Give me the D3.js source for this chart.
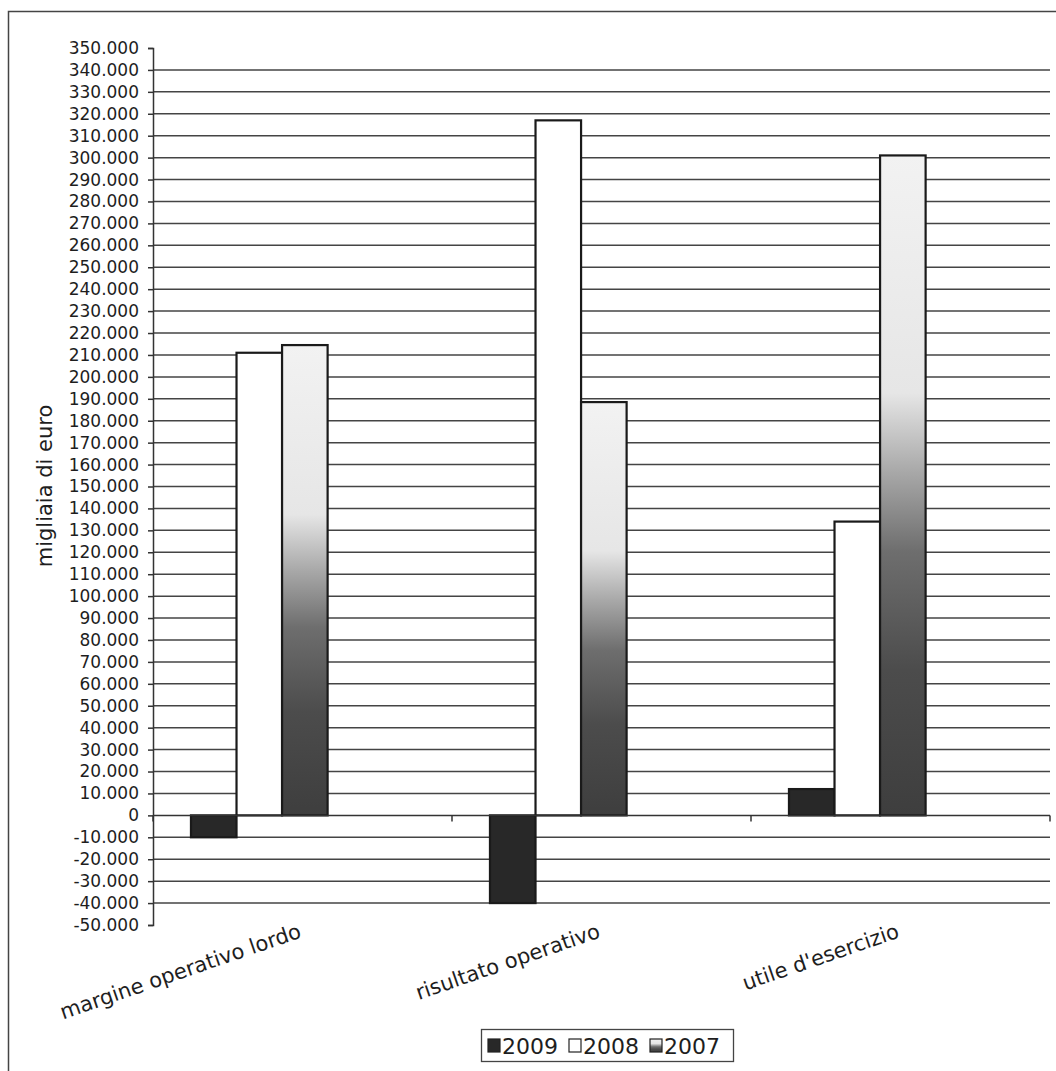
<!DOCTYPE html>
<html>
<head>
<meta charset="utf-8">
<script src="https://cdn.jsdelivr.net/npm/d3@7"></script>
<style>
  html, body { margin: 0; padding: 0; background: #fff; }
  svg { display: block; }
  text { font-family: "DejaVu Sans", Verdana, sans-serif; fill: #1e1e1e; }
</style>
</head>
<body>
<svg id="chart" width="1056" height="1071"></svg>
<script>
// ---- data ----
const categories = ["margine operativo lordo", "risultato operativo", "utile d'esercizio"];
const series = ["2009", "2008", "2007"];
const values2009 = [-10000, -40000, 12000];
const values2008 = [211000, 317000, 134000];
const values2007 = [214500, 188500, 301000];
const yTicks = d3.range(-50000, 350001, 10000);

const seriesValues = { "2009": values2009, "2008": values2008, "2007": values2007 };

// ---- layout ----
const W = 1056, H = 1071;
const plot = { left: 153, right: 1050, top: 48, bottom: 925 };

const svg = d3.select("#chart");
svg.append("rect").attr("width", W).attr("height", H).attr("fill", "#fff");

// outer frame (right and bottom edges run off the page)
svg.append("rect")
  .attr("x", 8.5).attr("y", 11.5).attr("width", 1070).attr("height", 1080)
  .attr("fill", "none").attr("stroke", "#444").attr("stroke-width", 1.5);

const defs = svg.append("defs");
const grad = defs.append("linearGradient").attr("id", "g2007")
  .attr("x1", 0).attr("y1", 0).attr("x2", 0).attr("y2", 1);
[[0, "#f2f2f2"], [0.36, "#e6e6e6"], [0.48, "#a8a8a8"], [0.6, "#6e6e6e"], [0.78, "#4c4c4c"], [1, "#3e3e3e"]]
  .forEach(([o, c]) => grad.append("stop").attr("offset", o).attr("stop-color", c));

const fills = { "2009": "#282828", "2008": "#ffffff", "2007": "url(#g2007)" };

const y = d3.scaleLinear().domain([-50000, 350000]).range([plot.bottom, plot.top]);
const x0 = d3.scaleBand().domain(categories).range([plot.left, plot.right]).padding(0);
const bw = x0.bandwidth();
const x1 = d3.scaleBand().domain(series).range([bw * 0.127, bw * 0.584]).padding(0);

const loc = d3.formatLocale({ decimal: ",", thousands: ".", grouping: [3], currency: ["€", ""], minus: "-" });
const fmt = loc.format(",");

// gridlines
svg.append("g").selectAll("line")
  .data(yTicks.filter(v => v !== 0 && v !== -50000 && v !== 350000))
  .join("line")
  .attr("x1", plot.left).attr("x2", plot.right)
  .attr("y1", d => y(d)).attr("y2", d => y(d))
  .attr("stroke", "#444").attr("stroke-width", 1.5);

// y axis
const yAxis = svg.append("g").attr("transform", `translate(${plot.left},0)`)
  .call(d3.axisLeft(y).tickValues(yTicks).tickFormat(fmt).tickSize(5).tickPadding(9));
yAxis.select(".domain").attr("stroke", "#333").attr("stroke-width", 1.5);
yAxis.selectAll(".tick line").attr("stroke", "#333").attr("stroke-width", 1.5);
yAxis.selectAll(".tick text").attr("font-size", 17).attr("font-family", "DejaVu Sans, Verdana, sans-serif").attr("fill", "#1e1e1e");

// y title
svg.append("text")
  .attr("transform", `translate(52,486) rotate(-90)`)
  .attr("text-anchor", "middle")
  .attr("font-size", 21)
  .text("migliaia di euro");

// bars
const groups = svg.append("g").selectAll("g")
  .data(categories)
  .join("g")
  .attr("transform", d => `translate(${x0(d)},0)`);

groups.selectAll("rect")
  .data((c, i) => series.map(s => ({ s, v: seriesValues[s][i] })))
  .join("rect")
  .attr("x", d => x1(d.s))
  .attr("width", x1.bandwidth())
  .attr("y", d => y(Math.max(0, d.v)))
  .attr("height", d => Math.abs(y(d.v) - y(0)))
  .attr("fill", d => fills[d.s])
  .attr("stroke", "#1a1a1a").attr("stroke-width", 2.2);

// x axis (zero line) with category ticks
const xAxisG = svg.append("g");
xAxisG.append("line")
  .attr("x1", plot.left).attr("x2", plot.right)
  .attr("y1", y(0)).attr("y2", y(0))
  .attr("stroke", "#333").attr("stroke-width", 1.5);
xAxisG.selectAll("line.t")
  .data(categories.map(c => x0(c) + bw).concat([plot.left]))
  .join("line").attr("class", "t")
  .attr("x1", d => d).attr("x2", d => d)
  .attr("y1", y(0)).attr("y2", y(0) + 6)
  .attr("stroke", "#333").attr("stroke-width", 1.5);

// category labels, rotated, anchored below the plot area
svg.append("g").selectAll("text")
  .data(categories)
  .join("text")
  .attr("transform", d => `translate(${x0(d) + bw / 2},${plot.bottom + 12}) rotate(-19)`)
  .attr("text-anchor", "end")
  .attr("font-size", 21)
  .text(d => d);

// legend
const lg = svg.append("g");
lg.append("rect").attr("x", 481.5).attr("y", 1029.5).attr("width", 252).attr("height", 32)
  .attr("fill", "#fff").attr("stroke", "#444").attr("stroke-width", 1.3);
const items = lg.selectAll("g.item").data(series).join("g").attr("class", "item")
  .attr("transform", (d, i) => `translate(${488 + i * 81},0)`);
items.append("rect").attr("x", 0).attr("y", 1039).attr("width", 12).attr("height", 13)
  .attr("fill", d => fills[d]).attr("stroke", "#222").attr("stroke-width", 1.2);
items.append("text").attr("x", 14).attr("y", 1054)
  .attr("font-size", 22).text(d => d);
</script>
</body>
</html>
